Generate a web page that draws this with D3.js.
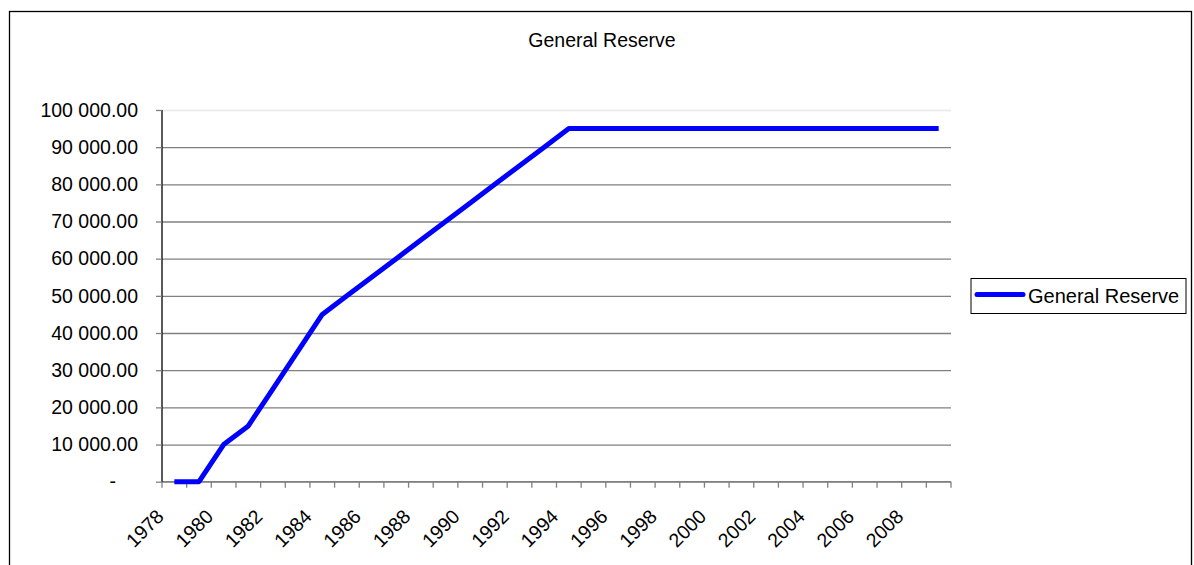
<!DOCTYPE html>
<meta charset="utf-8">
<style>

body {
    margin: 0;
    background: #fff;
}

text {
    font-family: "Liberation Sans", Arial, sans-serif;
    fill: #000;
}

.grid line {
    stroke: #808080;
    stroke-width: 1.3px;
}

.line {
    fill: none;
    stroke: #0000ff;
    stroke-width: 5px;
    stroke-linejoin: round;
}

</style>
<svg width="1194" height="565"></svg>
<script src="https://cdn.jsdelivr.net/npm/d3@7"></script>
<script>

var years = ["1978", "1979", "1980", "1981", "1982", "1983", "1984", "1985",
    "1986", "1987", "1988", "1989", "1990", "1991", "1992", "1993", "1994",
    "1995", "1996", "1997", "1998", "1999", "2000", "2001", "2002", "2003",
    "2004", "2005", "2006", "2007", "2008", "2009"];

var reserve = [0, 0, 10000, 15000, 25000, 35000, 45000, 50000,
    55000, 60000, 65000, 70000, 75000, 80000, 85000, 90000, 95000,
    95000, 95000, 95000, 95000, 95000, 95000, 95000, 95000, 95000,
    95000, 95000, 95000, 95000, 95000, 95000];

var yTicks = [0, 10000, 20000, 30000, 40000, 50000, 60000, 70000, 80000, 90000, 100000];

// every second year gets a label
var xLabels = ["1978", "1980", "1982", "1984", "1986", "1988", "1990", "1992",
    "1994", "1996", "1998", "2000", "2002", "2004", "2006", "2008"];

var seriesName = "General Reserve";
var title = "General Reserve";

var svg = d3.select("svg"),
    margin = {top: 110, left: 162},
    width = 789,
    height = 371.7,
    g = svg.append("g").attr("transform", "translate(" + margin.left + "," + margin.top + ")");

// outer chart frame
svg.append("rect")
    .attr("x", 9.5)
    .attr("y", 11.5)
    .attr("width", 1182)
    .attr("height", 600)
    .attr("fill", "none")
    .attr("stroke", "#000")
    .attr("stroke-width", 1.3);

svg.append("text")
    .attr("x", 602)
    .attr("y", 47)
    .attr("text-anchor", "middle")
    .style("font-size", "19.5px")
    .text(title);

var x = d3.scaleBand()
    .domain(years)
    .range([0, width])
    .padding(0);

var y = d3.scaleLinear()
    .domain([0, 100000])
    .range([height, 0]);

var fmt = function(d) {
    if (d === 0) return "-";
    return d3.format(",.2f")(d).replace(/,/g, " ");
};

// gridlines
var grid = g.append("g")
    .attr("class", "grid")
    .call(d3.axisLeft(y).tickValues(yTicks).tickSize(-width).tickFormat(""));
grid.select(".domain").remove();
grid.selectAll(".tick line")
    .filter(function(d) { return d === 100000; })
    .style("stroke", "#e8e8e8");

// x axis: ticks on category borders
var xAxis = g.append("g").attr("transform", "translate(0," + height + ")");
xAxis.append("line")
    .attr("x1", 0)
    .attr("x2", width)
    .attr("stroke", "#808080")
    .attr("stroke-width", 1.3);
xAxis.selectAll(".xt")
    .data(years.concat(["end"]))
    .enter().append("line")
    .attr("class", "xt")
    .attr("x1", function(d) { return d === "end" ? width : x(d); })
    .attr("x2", function(d) { return d === "end" ? width : x(d); })
    .attr("y1", 0)
    .attr("y2", 6)
    .attr("stroke", "#808080")
    .attr("stroke-width", 1.3);

xAxis.selectAll(".xl")
    .data(xLabels)
    .enter().append("text")
    .attr("class", "xl")
    .attr("text-anchor", "end")
    .style("font-size", "19.5px")
    .attr("transform", function(d) {
        return "translate(" + (x(d) + 3) + ",36) rotate(-45)";
    })
    .text(function(d) { return d; });

// y axis
var yAxis = g.append("g")
    .call(d3.axisLeft(y).tickValues(yTicks).tickSize(6).tickPadding(18).tickFormat(fmt));
yAxis.select(".domain")
    .attr("stroke", "#000")
    .attr("stroke-width", 1.3)
    .attr("d", "M0," + height + "V0");
yAxis.selectAll(".tick line")
    .attr("stroke", "#808080")
    .attr("stroke-width", 1.3);
yAxis.selectAll(".tick text")
    .style("font-size", "19.5px")
    .style("font-family", "'Liberation Sans', Arial, sans-serif")
    .attr("fill", "#000");
yAxis.selectAll(".tick text")
    .filter(function(d) { return d === 0; })
    .attr("x", -46);

// series
var line = d3.line()
    .x(function(d, i) { return x(years[i]) + x.bandwidth() / 2; })
    .y(function(d) { return y(d); });

g.append("path")
    .datum(reserve)
    .attr("class", "line")
    .attr("d", line);

// legend
var legend = svg.append("g").attr("transform", "translate(971,278.5)");
legend.append("rect")
    .attr("width", 215)
    .attr("height", 35)
    .attr("fill", "#fff")
    .attr("stroke", "#000")
    .attr("stroke-width", 1);
legend.append("line")
    .attr("x1", 6)
    .attr("x2", 52)
    .attr("y1", 16)
    .attr("y2", 16)
    .attr("stroke", "#0000ff")
    .attr("stroke-width", 5)
    .attr("stroke-linecap", "round");
legend.append("text")
    .attr("x", 57)
    .attr("y", 24.5)
    .style("font-size", "20px")
    .text(seriesName);

</script>
